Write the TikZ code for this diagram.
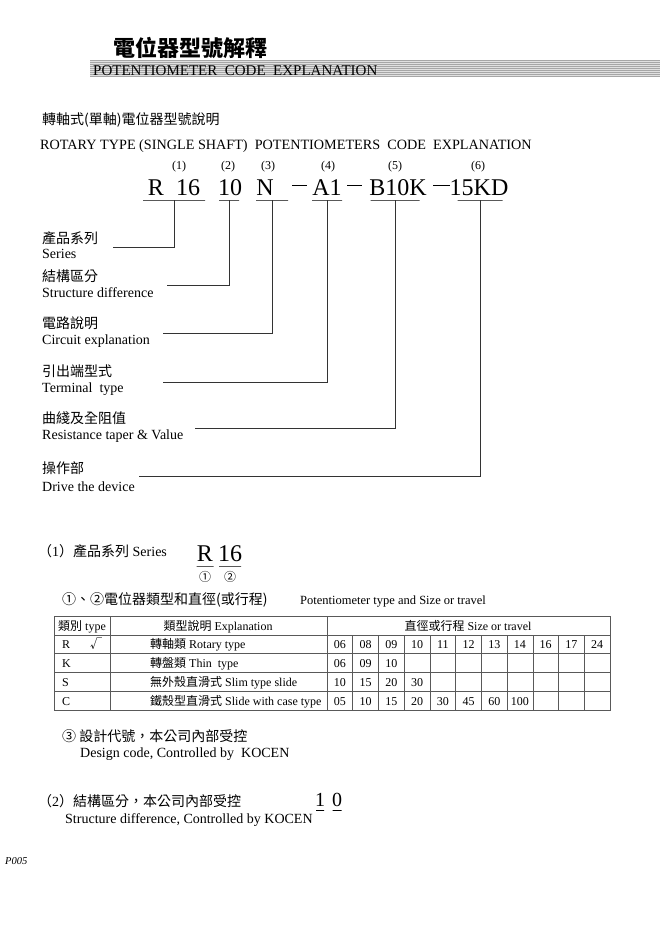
\documentclass[tikz,border=0pt]{standalone}
\usepackage{fontspec}
\setmainfont{Liberation Serif}
\newfontfamily\cjk{Noto Sans CJK TC}
\newcommand\zh[1]{{\cjk #1}}
\usetikzlibrary{positioning}

\tikzset{
  txt/.style={inner sep=0pt, anchor=base west, font=\fontsize{14}{16}\selectfont},
  code/.style={inner sep=0pt, anchor=base, font=\fontsize{24}{26}\selectfont},
  idx/.style={inner sep=0pt, anchor=base, font=\fontsize{12}{14}\selectfont},
  cell/.style={inner sep=0pt, anchor=base, font=\fontsize{12}{13}\selectfont},
  bar/.style={draw, inner sep=0pt, minimum height=0pt, line width=0.6pt},
  lead/.style={draw=black!80, line width=0.5pt},
  grid/.style={draw=black!65, line width=0.5pt}
}

\begin{document}
\begin{tikzpicture}[x=1pt, y=-1pt]
  \useasboundingbox (0,0) rectangle (670,937);
  % heading
  \node[anchor=base west, inner sep=0pt, font=\fontsize{22}{24}\selectfont\cjk\bfseries] (title) at (113,56) {電位器型號解釋};
  \fill[black!12] (90,60) rectangle (660,77);
  \foreach \y in {60,62,...,76} \draw[black!35, line width=0.3pt] (90,\y) -- (660,\y);
  \node[txt, font=\fontsize{15}{17}\selectfont] (head) at (93,75) {POTENTIOMETER~~CODE~~EXPLANATION};
  \node[txt] (subzh) at (42,124) {\zh{轉軸式(單軸)電位器型號說明}};
  \node[txt, font=\fontsize{14.2}{16}\selectfont] (suben) at (40,149) {ROTARY TYPE (SINGLE SHAFT)~~POTENTIOMETERS~~CODE~~EXPLANATION};

  % code string
  \node[idx] (i1) at (179,169) {(1)}; \node[idx] (i2) at (228,169) {(2)};
  \node[idx] (i3) at (268,169) {(3)}; \node[idx] (i4) at (328,169) {(4)};
  \node[idx] (i5) at (395,169) {(5)}; \node[idx] (i6) at (478,169) {(6)};
  \node[code] (c1) at (174,195) {R\hspace{12pt}16};
  \node[code] (c2) at (230,195) {10};
  \node[code] (c3) at (265,195) {N};
  \node[code] (c4) at (327,195) {A1};
  \node[code] (c5) at (398,195) {B10K};
  \node[code] (c6) at (479,195) {15KD};
  \draw[line width=0.6pt] (292,185) -- (307,185) (347,185) -- (362,185) (433,185) -- (450,185);
  \node[bar, minimum width=62pt] (u1) at (174,200) {};
  \node[bar, minimum width=20pt] (u2) at (229,200) {};
  \node[bar, minimum width=32pt] (u3) at (272,200) {};
  \node[bar, minimum width=30pt] (u4) at (327,200) {};
  \node[bar, minimum width=49pt] (u5) at (395,200) {};
  \node[bar, minimum width=45pt] (u6) at (480,200) {};

  % explanations
  \node[txt] (l1) at (42,243) {\zh{產品系列}};      \node[txt] (m1) at (42,258) {Series};
  \node[txt] (l2) at (42,281) {\zh{結構區分}};      \node[txt] (m2) at (42,297) {Structure difference};
  \node[txt] (l3) at (42,328) {\zh{電路說明}};      \node[txt] (m3) at (42,344) {Circuit explanation};
  \node[txt] (l4) at (42,376) {\zh{引出端型式}};    \node[txt] (m4) at (42,392) {Terminal~~type};
  \node[txt] (l5) at (42,423) {\zh{曲綫及全阻值}};  \node[txt] (m5) at (42,439) {Resistance taper \& Value};
  \node[txt] (l6) at (42,473) {\zh{操作部}};        \node[txt] (m6) at (42,491) {Drive the device};
  \coordinate (e1) at (113,247); \coordinate (e2) at (167,285); \coordinate (e3) at (163,333);
  \coordinate (e4) at (163,382); \coordinate (e5) at (195,428); \coordinate (e6) at (139,476);
  \foreach \k in {1,...,6} \draw[lead] (u\k.center) |- (e\k);

  % (1) series
  \node[txt] (s1) at (38,556) {\zh{（}1\zh{）產品系列} Series};
  \node[code] (sR) at (205,561) {R}; \node[code] (s16) at (230,561) {16};
  \node[bar, minimum width=17pt] (sRu) at (205,566) {};
  \node[bar, minimum width=22pt] (s16u) at (230,566) {};
  \node[idx, anchor=center, font=\fontsize{12}{14}\selectfont\cjk] (n1) at (205,577) {①};
  \node[idx, anchor=center, font=\fontsize{12}{14}\selectfont\cjk] (n2) at (230,577) {②};
  \node[txt] (tzh) at (62,604) {\zh{①、②電位器類型和直徑(或行程)}};
  \node[txt, font=\fontsize{12.5}{14}\selectfont] (ten) at (300,604) {Potentiometer type and Size or travel};

  % table
  \draw[grid] (54,616) rectangle (610,710);
  \foreach \y in {635,653,672,691} \draw[grid] (54,\y) -- (610,\y);
  \draw[grid] (110,616) -- (110,710) (327,616) -- (327,710);
  \foreach \j in {1,...,10} \draw[grid] ({327+25.73*\j},635) -- ({327+25.73*\j},710);
  \node[cell] (h1) at (82,630) {\zh{類別} type};
  \node[cell] (h2) at (218,630) {\zh{類型說明} Explanation};
  \node[cell] (h3) at (468,630) {\zh{直徑或行程} Size or travel};
  \node[cell, anchor=base west] (tR) at (62,648) {R}; \node[cell] (tok) at (96,648) {\zh{√}};
  \node[cell, anchor=base west] (tK) at (62,667) {K};
  \node[cell, anchor=base west] (tS) at (62,686) {S};
  \node[cell, anchor=base west] (tC) at (62,705) {C};
  \node[cell, anchor=base west] (xR) at (150,648) {\zh{轉軸類} Rotary type};
  \node[cell, anchor=base west] (xK) at (150,667) {\zh{轉盤類} Thin~~type};
  \node[cell, anchor=base west] (xS) at (150,686) {\zh{無外殼直滑式} Slim type slide};
  \node[cell, anchor=base west] (xC) at (150,705) {\zh{鐵殼型直滑式} Slide with case type};
  \foreach \v [count=\i] in {06,08,09,10,11,12,13,14,16,17,24} \node[cell] (vR\i) at ({327+25.73*(\i-.5)},648) {\v};
  \foreach \v [count=\i] in {06,09,10} \node[cell] (vK\i) at ({327+25.73*(\i-.5)},667) {\v};
  \foreach \v [count=\i] in {10,15,20,30} \node[cell] (vS\i) at ({327+25.73*(\i-.5)},686) {\v};
  \foreach \v [count=\i] in {05,10,15,20,30,45,60,100} \node[cell] (vC\i) at ({327+25.73*(\i-.5)},705) {\v};

  % design code
  \node[txt] (d1) at (62,741) {\zh{③ 設計代號，本公司內部受控}};
  \node[txt] (d2) at (80,757) {Design code, Controlled by~~KOCEN};

  % (2) structure
  \node[txt] (s2) at (38,806) {\zh{（}2\zh{）結構區分，本公司內部受控}};
  \node[txt] (s2en) at (65,823) {Structure difference, Controlled by KOCEN};
  \node[code, font=\fontsize{20}{22}\selectfont] (b1) at (320,806) {1};
  \node[code, font=\fontsize{20}{22}\selectfont] (b0) at (337,806) {0};
  \node[bar, minimum width=8pt] (b1u) at (320,810) {};
  \node[bar, minimum width=9pt] (b0u) at (337,810) {};

  \node[anchor=base west, inner sep=0pt, font=\fontsize{10.5}{12}\selectfont\itshape] (page) at (5,864) {P005};
\end{tikzpicture}
\end{document}
